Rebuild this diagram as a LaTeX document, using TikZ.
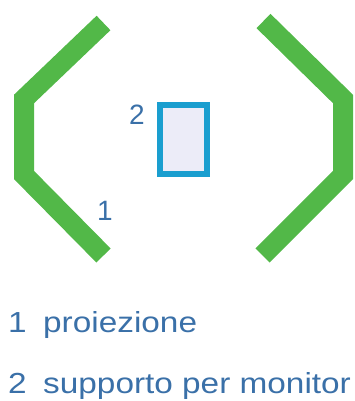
\documentclass[tikz,border=0pt]{standalone}
\usepackage{fontspec}
\setmainfont{Liberation Sans}
\newfontfamily\legendfont[FakeStretch=1.15]{Liberation Sans}
\usepackage{tikz}
\usetikzlibrary{positioning}

\definecolor{wallgreen}{HTML}{52B848}
\definecolor{frameblue}{HTML}{1A9ECF}
\definecolor{screenfill}{HTML}{ECECF8}
\definecolor{labelblue}{HTML}{3A70A8}

\begin{document}
\begin{tikzpicture}[x=1pt, y=1pt,
  wall/.style={draw=wallgreen, line width=20pt, line join=miter},
  monitor/.style={draw=frameblue, fill=screenfill, line width=6pt},
  tag/.style={text=labelblue, font=\fontsize{28}{30}\selectfont, inner sep=0pt},
  legend/.style={text=labelblue, font=\legendfont\fontsize{29}{32}\selectfont, inner sep=0pt, anchor=base west}]

  \useasboundingbox (0,0) rectangle (355,401);

  % ===== Projection walls (left and right) =====
  \draw[wall] (103.5,378) -- (24,302) -- (24,226) -- (103.5,145.5);
  \draw[wall] (263.5,380) -- (343,302) -- (343,226) -- (262.5,145.5);

  % ===== Monitor support =====
  \draw[monitor] (160,227) rectangle (207,296);

  % Numbers on the drawing
  \node[tag] (t2) at (137,286) {2};
  \node[tag] (t1) at (105,190) {1};

  % ===== Legend =====
  \node[legend] (n1) at (8,68) {1};
  \node[legend] (l1) at (43,68) {proiezione};
  \node[legend] (n2) at (8,8) {2};
  \node[legend] (l2) at (43,8) {supporto per monitor};

\end{tikzpicture}
\end{document}
